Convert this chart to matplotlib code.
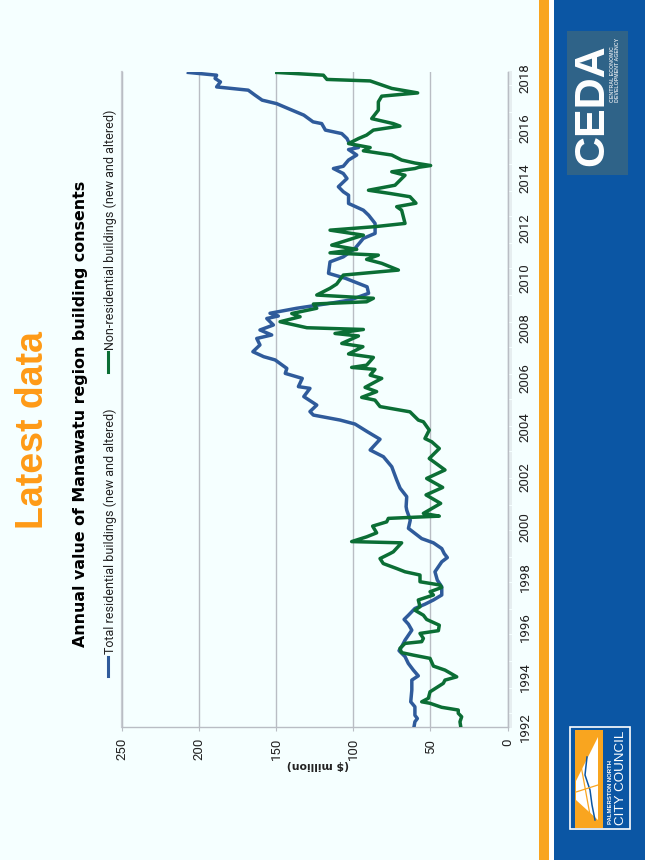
import matplotlib
matplotlib.use("Agg")
import matplotlib.pyplot as plt
import numpy as np
from matplotlib.patches import Rectangle, Polygon

res_years = [1992.0,1992.21,1992.34,1992.47,1992.81,1993.01,1993.48,1993.88,1994.05,1994.28,1994.55,1994.82,1995.06,1995.22,1995.48,1995.88,1996.12,1996.31,1996.48,1996.75,1996.92,1997.09,1997.29,1997.62,1997.89,1998.22,1998.62,1998.79,1998.95,1999.15,1999.38,1999.55,1999.76,1999.96,2000.29,2000.69,2000.83,2001.23,2001.57,2001.9,2002.43,2002.83,2003.1,2003.53,2003.84,2004.14,2004.3,2004.5,2004.64,2004.9,2005.24,2005.57,2005.64,2005.97,2006.17,2006.37,2006.71,2006.84,2007.04,2007.31,2007.57,2007.71,2007.91,2008.11,2008.37,2008.47,2008.58,2008.78,2008.98,2009.11,2009.38,2009.64,2009.98,2010.18,2010.64,2010.84,2011.18,2011.58,2011.78,2012.18,2012.51,2012.71,2012.98,2013.31,2013.45,2013.65,2013.98,2014.18,2014.38,2014.47,2014.72,2014.92,2015.14,2015.22,2015.45,2015.58,2015.78,2015.92,2016.18,2016.25,2016.52,2016.78,2016.98,2017.12,2017.32,2017.52,2017.65,2017.85,2017.99,2018.12,2018.23]
res_values = [60.6,60,58.4,60,60,62.7,62,62,57.8,61,64.3,66.4,70.3,68.6,66.4,62,64.2,67,64.2,60,53.5,48,42.6,42.6,45.5,47,42.6,39,41,42.6,48,55.6,60,64.2,63,65.3,65.7,65.3,69.6,71.8,75,80.4,89,82.6,91,98.8,108.5,125.8,128,123.6,132,128,135.5,133,144,143,150.6,158,165,160.4,162.5,152.8,160.4,151.7,156,148.5,153.9,136.6,115,102,90,91,105,116,115,106.4,98.8,93.4,85.8,85.8,90,93.4,103,103,106.4,109.6,104,106.4,112.8,106.4,103,97.7,103,96.6,103,104,107.4,118,120.4,126,132,142,149.6,159,163.6,168,188.5,186,189.5,188.5,206.8]

non_years = [1992.01,1992.21,1992.41,1992.55,1992.68,1992.79,1992.95,1993.01,1993.15,1993.41,1993.75,1993.88,1994.01,1994.28,1994.44,1994.75,1994.88,1994.98,1995.15,1995.35,1995.42,1995.55,1995.75,1995.86,1996.08,1996.31,1996.48,1996.68,1996.82,1997.09,1997.29,1997.42,1997.59,1997.69,1997.82,1998.09,1998.22,1998.35,1998.55,1998.75,1998.95,1999.02,1999.38,1999.43,1999.62,1999.78,2000.05,2000.22,2000.36,2000.45,2000.56,2000.96,2001.3,2001.6,2001.96,2002.3,2002.76,2003.16,2003.43,2003.56,2003.9,2004.23,2004.3,2004.63,2004.84,2005.1,2005.21,2005.44,2005.61,2005.97,2006.1,2006.33,2006.41,2006.5,2006.81,2006.95,2007.24,2007.37,2007.67,2007.77,2007.93,2008.0,2008.24,2008.44,2008.57,2008.78,2008.95,2009.04,2009.18,2009.31,2009.58,2009.75,2010.11,2010.31,2010.58,2010.74,2010.91,2011.0,2011.14,2011.31,2011.71,2011.91,2012.05,2012.18,2012.71,2012.85,2012.99,2013.25,2013.38,2013.51,2013.71,2014.11,2014.25,2014.38,2014.43,2014.5,2014.6,2014.72,2014.92,2015.09,2015.22,2015.38,2015.58,2015.72,2015.92,2016.08,2016.18,2016.38,2016.72,2017.05,2017.28,2017.41,2017.59,2017.89,2017.95,2018.12,2018.23]
non_values = [30.3,30.8,29.7,31.9,31.9,42.7,50.2,55.6,51.3,50.2,41.6,40.5,32.9,40.5,48,50.2,61,68.6,69.7,66.4,55.6,54.5,56.7,44.8,44.2,52.4,54.5,60,56.7,57.8,48,50.2,42.7,43.7,56.7,56.7,66.4,71.8,80.5,82.6,76.1,74,68.6,101,91.3,84.8,87.4,78.3,77.2,44.2,54.5,43.3,52.8,42,52.4,40.5,50.7,44.2,49.1,53.5,50.7,54.5,57.8,63.2,82.6,85.9,94.5,84.8,92.3,81.5,89,85.9,101,91.3,86.9,103,93.7,107.4,96.6,111.8,93.4,130,147.4,134.4,139.8,123.6,125.8,91.3,86.9,123.6,115,110.7,106.4,70.7,81.5,91.3,83.7,115,97.7,113.9,93.4,115,85.9,66.4,68.6,71.8,59.3,63.2,76.1,90.1,72.9,66.4,75,60,57.5,49.8,60,68.6,75,93.4,89,103,96.6,91.3,86.9,69.7,74,88,83.7,83.7,81.5,58.2,75,89,117,119.3,149.5]

value_ticks = [0, 50, 100, 150, 200, 250]
year_ticks = list(range(1992, 2019, 2))
res_name = "Total residential buildings (new and altered)"
non_name = "Non-residential buildings (new and altered)"
title = "Annual value of Manawatu region building consents"
heading = "Latest data"
unit = "($ million)"

W, H = 645, 860
BG = "#F5FFFF"; ORANGE = "#F9A51F"; BLUE = "#0B56A4"
RES = "#2F5B9B"; NON = "#0B6E35"; GRID = "#B9BDC4"
LABEL = "Roboto"

fig = plt.figure(figsize=(W/100, H/100), dpi=100, facecolor=BG)

# page furniture, in pixel coordinates
bg = fig.add_axes([0, 0, 1, 1], zorder=0)
bg.set_xlim(0, W); bg.set_ylim(H, 0); bg.axis("off")
bg.add_patch(Rectangle((539, 0), 10, H, fc=ORANGE, ec="none"))
bg.add_patch(Rectangle((549, 0), 5, H, fc="white", ec="none"))
bg.add_patch(Rectangle((554, 0), 91, H, fc=BLUE, ec="none"))
bg.add_patch(Rectangle((567, 31), 61, 144, fc="#2F6388", ec="none"))
bg.text(592, 105, "CEDA", color="white", rotation=90, ha="center", va="center",
        family="Liberation Sans", weight="bold", fontsize=31)
bg.text(615, 70, "CENTRAL ECONOMIC\nDEVELOPMENT AGENCY", color="#D5DEE6", rotation=90,
        ha="center", va="center", family="Liberation Sans", weight="bold", fontsize=3.8,
        linespacing=1.1, multialignment="left")
# council logo
bg.add_patch(Rectangle((570, 727), 60, 102, fc="none", ec="white", lw=1.2))
bg.add_patch(Rectangle((575, 730), 28, 98, fc=ORANGE, ec="none"))
bg.add_patch(Polygon([(598, 737), (576, 781), (576, 800), (598, 820)], fc="white", ec="none"))
bg.plot([587, 585, 590, 592, 595], [757, 775, 790, 805, 820], color=BLUE, lw=1.1)
bg.plot([576, 598], [792, 785], color=ORANGE, lw=0.9)
bg.plot([580, 590], [760, 815], color=ORANGE, lw=0.9)
bg.text(610, 792, "PALMERSTON NORTH", color="white", rotation=90, ha="center", va="center",
        family="Liberation Sans", weight="bold", fontsize=4.3)
bg.text(621, 778, "CITY COUNCIL", color="white", rotation=90, ha="center", va="center",
        family="Liberation Sans", fontsize=9.6)

# headings
bg.text(33.5, 430, heading, color="#FF9A16", rotation=90, ha="center", va="center",
        family="Liberation Sans", weight="bold", fontsize=27)
bg.text(81, 414, title, color="black", rotation=90, ha="center", va="center",
        family="DejaVu Sans", weight="bold", fontsize=11.4)
# legend
bg.plot([108, 108], [676, 657], color=RES, lw=2.2)
bg.plot([108, 108], [372, 352], color=NON, lw=2.2)
bg.text(110, 654, res_name, color="#222222", rotation=90, ha="center", va="bottom",
        family=LABEL, fontsize=9.0)
bg.text(110, 350, non_name, color="#222222", rotation=90, ha="center", va="bottom",
        family=LABEL, fontsize=9.0)

# chart: value runs right-to-left, time runs upward (page is rotated)
left, right, top, bottom = 121.7, 507.5, 71.7, 727.0
ax = fig.add_axes([left/W, 1-bottom/H, (right-left)/W, (bottom-top)/H], zorder=1)
ax.patch.set_alpha(0)
ax.set_xlim(250, 0)
ax.set_ylim(1992, 2018.26)
ax.plot(res_values, res_years, color=RES, lw=2.5, solid_joinstyle="round", zorder=3)
ax.plot(non_values, non_years, color=NON, lw=2.5, solid_joinstyle="round", zorder=4)

ax.set_xticks(value_ticks)
ax.set_xticklabels([str(v) for v in value_ticks], rotation=90, family=LABEL, fontsize=9.5, color="#222222", va="top")
ax.set_yticks(year_ticks)
ax.set_yticklabels([str(y) for y in year_ticks], rotation=90, family=LABEL, fontsize=9.5, color="#222222", va="center")
ax.yaxis.tick_right()
ax.set_yticks(np.arange(1992, 2018.26, 1/12), minor=True)
ax.tick_params(axis="y", which="minor", length=3, width=0.35, color=GRID, right=True, left=False)
ax.tick_params(axis="y", which="major", length=3, width=0.35, color=GRID, pad=5)
ax.tick_params(axis="x", which="major", length=3, width=0.8, color=GRID, pad=5)
ax.grid(axis="x", color=GRID, lw=1.0, zorder=1)
for s in ("top", "left"):
    ax.spines[s].set_visible(False)
for s in ("right", "bottom"):
    ax.spines[s].set_color(GRID); ax.spines[s].set_linewidth(1.0)
ax.axvline(250, color="#C8CCD2", lw=1.6, zorder=1, clip_on=False)

bg.text(318, 765, unit, color="#222222", rotation=180, ha="center", va="center",
        family="DejaVu Sans", weight="bold", fontsize=7.8)

fig.savefig("out.png", dpi=100, facecolor=BG)
